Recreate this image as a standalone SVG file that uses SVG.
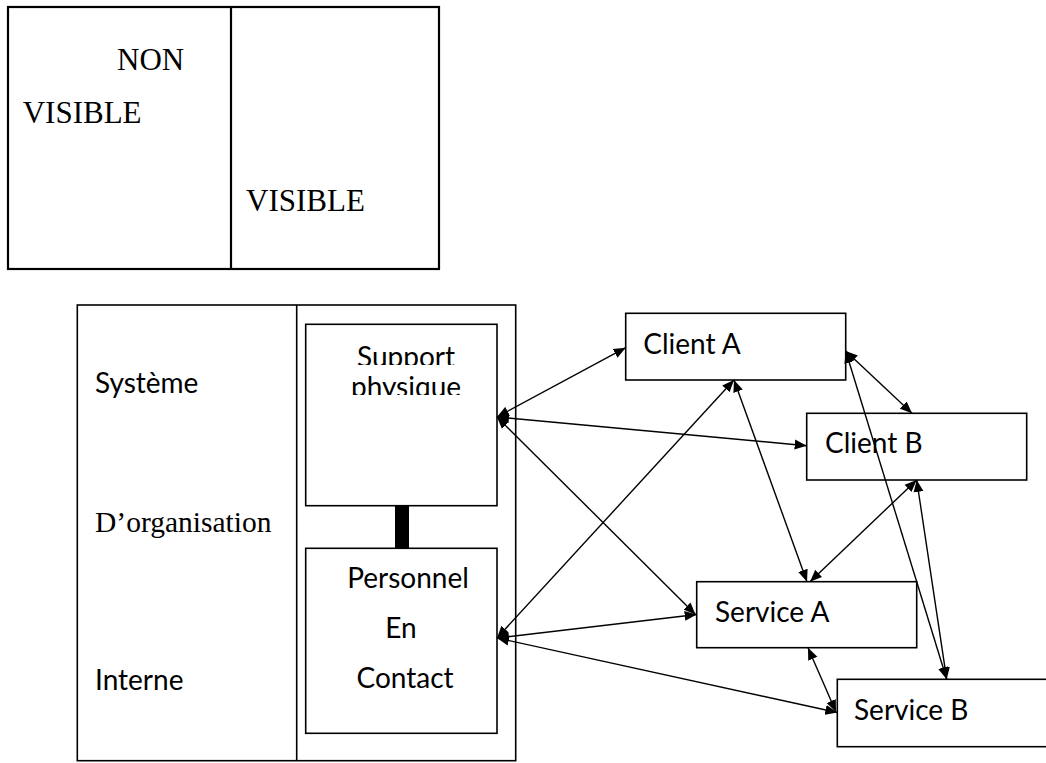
<svg xmlns="http://www.w3.org/2000/svg" width="1046" height="763" viewBox="0 0 1046 763">
<style>
.box{fill:#fff;stroke:#000;stroke-width:1.6}
.thick{fill:#fff;stroke:#000;stroke-width:2.2}
.serif{font-family:"Liberation Serif","Times New Roman",serif;fill:#000}
.sans{font-family:Lato,"Liberation Sans",sans-serif;font-size:28px;fill:#000}
.conn line{stroke:#000;stroke-width:1.4;marker-start:url(#ah);marker-end:url(#ah)}
</style>
<defs>
<marker id="ah" markerUnits="userSpaceOnUse" markerWidth="13" markerHeight="11" refX="12" refY="5" orient="auto-start-reverse" viewBox="0 0 13 10">
<path d="M0,0 L12,5 L0,10 z" fill="#000"/>
</marker>
<clipPath id="clipSupport"><rect x="330" y="330" width="150" height="35"/></clipPath>
<clipPath id="clipPhys"><rect x="330" y="370" width="150" height="25"/></clipPath>
</defs>
<rect width="1046" height="763" fill="#fff"/>
<g id="visibility">
<rect class="thick" x="8" y="7" width="431" height="262"/>
<line x1="231" y1="7" x2="231" y2="269" stroke="#000" stroke-width="2.2"/>
<text class="serif" font-size="31" x="117" y="70">NON</text>
<text class="serif" font-size="31" x="22.7" y="123.3">VISIBLE</text>
<text class="serif" font-size="31" x="246" y="210.7">VISIBLE</text>
</g>
<g id="organisation">
<rect class="box" x="77.3" y="305" width="438.4" height="455.7"/>
<line x1="296.7" y1="305" x2="296.7" y2="760.7" stroke="#000" stroke-width="1.6"/>
<text class="sans" x="95" y="392.7">Système</text>
<text class="serif" font-size="29.5" x="95" y="532.3">D’organisation</text>
<text class="sans" x="95" y="690">Interne</text>
</g>
<g id="link-bar">
<rect x="395" y="505.7" width="14" height="42.6" fill="#000"/>
</g>
<g id="support-physique">
<rect class="box" x="305.7" y="324.3" width="191.3" height="181.4"/>
<text class="sans" x="406" y="367" text-anchor="middle" clip-path="url(#clipSupport)">Support</text>
<text class="sans" x="406" y="397" text-anchor="middle" clip-path="url(#clipPhys)">physique</text>
</g>
<g id="personnel-contact">
<rect class="box" x="305.7" y="548.3" width="191.3" height="185"/>
<text class="sans" x="408" y="588.3" text-anchor="middle">Personnel</text>
<text class="sans" x="401" y="637.7" text-anchor="middle">En</text>
<text class="sans" x="405" y="687.7" text-anchor="middle">Contact</text>
</g>
<g id="client-a">
<rect class="box" x="625.7" y="313.3" width="220" height="66.7"/>
<text class="sans" x="643.3" y="354">Client A</text>
</g>
<g id="client-b">
<rect class="box" x="806.7" y="413.3" width="220" height="66.7"/>
<text class="sans" x="825" y="453.3">Client B</text>
</g>
<g id="service-a">
<rect class="box" x="696.7" y="581.7" width="220" height="66"/>
<text class="sans" x="715" y="621.7">Service A</text>
</g>
<g id="service-b">
<rect class="box" x="837.3" y="679.3" width="215" height="67.4"/>
<text class="sans" x="854" y="720">Service B</text>
</g>
<g id="connectors" class="conn">
<line x1="497" y1="417" x2="625.7" y2="347.7"/>
<line x1="497" y1="417" x2="806.7" y2="445.7"/>
<line x1="497" y1="417" x2="695.5" y2="614.5"/>
<line x1="497" y1="638" x2="734" y2="380"/>
<line x1="497" y1="638" x2="696.7" y2="614.5"/>
<line x1="497" y1="638" x2="837.3" y2="712.5"/>
<line x1="734" y1="380" x2="807" y2="581.7"/>
<line x1="916.7" y1="480" x2="810" y2="581.7"/>
<line x1="845.7" y1="351" x2="912" y2="413.3"/>
<line x1="845.7" y1="351" x2="946.7" y2="679.3"/>
<line x1="916.7" y1="480" x2="946.7" y2="679.3"/>
<line x1="808" y1="647.7" x2="836" y2="712"/>
</g>
</svg>
